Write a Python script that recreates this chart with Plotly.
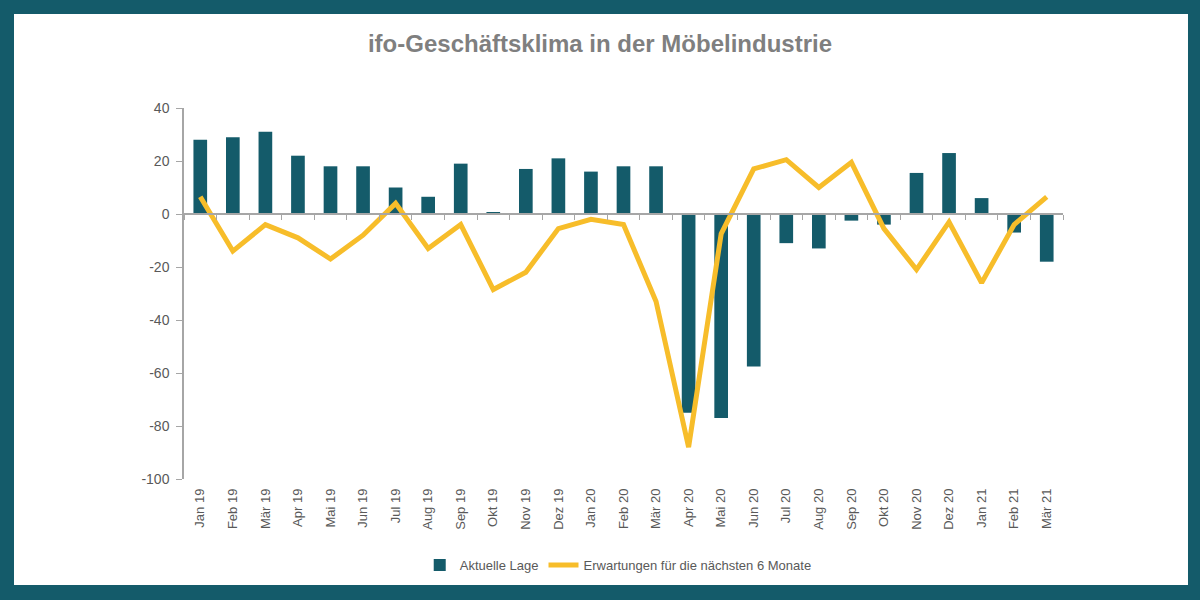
import plotly.graph_objects as go

# Monate (Jan 19 - Mär 21)
monate = ['Jan 19', 'Feb 19', 'Mär 19', 'Apr 19', 'Mai 19', 'Jun 19', 'Jul 19', 'Aug 19', 'Sep 19',
          'Okt 19', 'Nov 19', 'Dez 19', 'Jan 20', 'Feb 20', 'Mär 20', 'Apr 20', 'Mai 20', 'Jun 20',
          'Jul 20', 'Aug 20', 'Sep 20', 'Okt 20', 'Nov 20', 'Dez 20', 'Jan 21', 'Feb 21', 'Mär 21']

# Aktuelle Lage (Balken)
lage = [28, 29, 31, 22, 18, 18, 10, 6.5, 19,
        0.5, 17, 21, 16, 18, 18, -75, -77, -57.5,
        -11, -13, -2.5, -4, 15.5, 23, 6, -7, -18]

# Erwartungen fuer die naechsten 6 Monate (Linie)
erwartungen = [6.5, -14, -4, -9, -17, -8, 4, -13, -4,
               -28.5, -22, -5.5, -2, -4, -33, -88, -7.5, 17,
               20.5, 10, 19.5, -5.5, -21, -3, -26, -4, 6.5]

y_ticks = [40, 20, 0, -20, -40, -60, -80, -100]

teal = '#145b6a'
gelb = '#f7bd2a'
grau = '#595959'
achse = '#a6a6a6'

fig = go.Figure()

fig.add_trace(go.Bar(x=monate, y=lage, name='Aktuelle Lage', marker_color=teal,
                     marker_line_width=0))
fig.add_trace(go.Scatter(x=monate, y=erwartungen, name='Erwartungen für die nächsten 6 Monate',
                         mode='lines', line=dict(color=gelb, width=5)))
# unsichtbare Spur fuer die Achse bei 0
fig.add_trace(go.Scatter(x=monate, y=erwartungen, xaxis='x2', mode='lines', opacity=0,
                         showlegend=False, hoverinfo='skip'))

fig.update_layout(
    width=1200, height=600,
    margin=dict(l=184, r=137, t=108, b=121),
    paper_bgcolor=teal,
    plot_bgcolor='white',
    font=dict(family='Liberation Sans, Arial, sans-serif', color=grau),
    title=dict(text='<b>ifo-Geschäftsklima in der Möbelindustrie</b>',
               x=0.5, xref='container', xanchor='center', y=0.928, yanchor='middle',
               font=dict(size=24, color='#7f7f7f')),
    bargap=0.58,
    showlegend=True,
    legend=dict(orientation='h', x=0.494, xanchor='center', y=-0.232, yanchor='middle',
                font=dict(size=13, color=grau), bgcolor='rgba(0,0,0,0)'),
    xaxis=dict(type='category', showline=False, ticks='', tickangle=-90, ticklabelstandoff=6,
               tickfont=dict(size=13, color=grau), showgrid=False, zeroline=False),
    xaxis2=dict(type='category', overlaying='x', anchor='free', position=100 / 140,
                showline=True, linecolor=achse, linewidth=1.5, ticks='outside',
                tickson='boundaries', ticklen=5, tickcolor=achse,
                showticklabels=False, showgrid=False, matches='x'),
    yaxis=dict(range=[-100, 40], tickvals=y_ticks, ticktext=[str(v) for v in y_ticks],
               showline=True, linecolor=achse, linewidth=1.5, ticks='outside',
               ticklen=6, tickcolor=achse, showgrid=False, zeroline=False,
               ticklabelstandoff=4, tickfont=dict(size=14, color=grau)),
)

# weisse Flaeche innerhalb des Rahmens
fig.add_shape(type='rect', xref='paper', yref='paper', layer='below',
              x0=-0.1934, x1=1.1422, y0=-0.2857, y1=1.2534,
              fillcolor='white', line_width=0)

fig.write_html('out.html', config={'displayModeBar': False},
               post_script="document.body.style.margin='0';")
